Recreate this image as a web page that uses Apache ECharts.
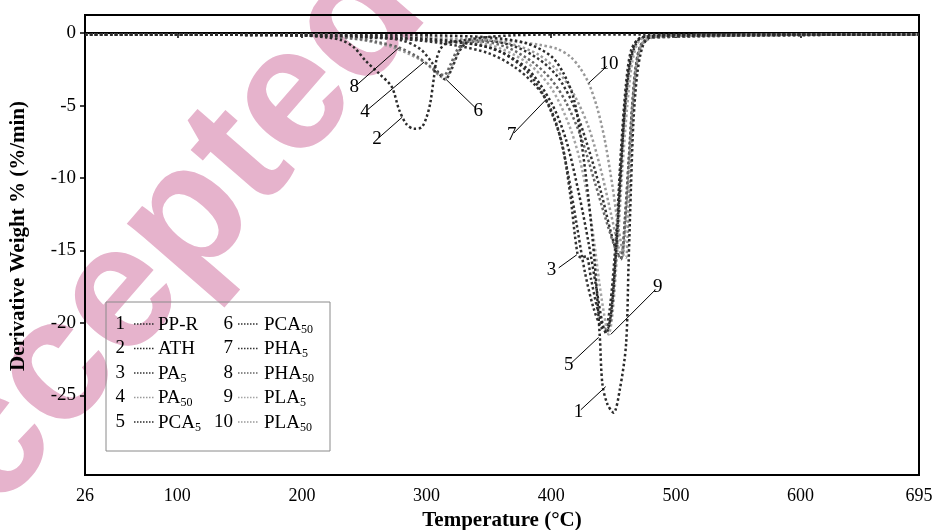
<!DOCTYPE html>
<html>
<head>
<meta charset="utf-8">
<script src="https://cdn.jsdelivr.net/npm/echarts@6/dist/echarts.min.js"></script>
<style>
  html, body { margin: 0; padding: 0; background: #fff; }
  #main { width: 933px; height: 530px; }
</style>
</head>
<body>
<div id="main"></div>
<script>
// tick labels
var xTicks = [26, 100, 200, 300, 400, 500, 600, 695];
var xTickMarks = [100, 200, 300, 400, 500, 600];
var yTicks = [0, -5, -10, -15, -20, -25];

// [temperature, derivative weight]
var ppr = [[26,-0.1],[200,-0.1],[300,-0.15],[350,-0.3],[380,-0.7],[400,-1.6],[410,-2.8],[418,-4.5],[424,-7.4],[430,-11.5],[435,-16],[439,-21],[441,-24.2],[445,-25.6],[450,-26.2],[455,-24.6],[460,-21.5],[462,-16],[464,-10.5],[466,-6],[469,-2.8],[473,-1],[478,-0.35],[490,-0.15],[600,-0.1],[695,-0.1]];
var ath = [[26,-0.1],[150,-0.1],[200,-0.15],[220,-0.3],[232,-0.5],[242,-1.0],[251,-1.9],[262,-2.8],[272,-3.7],[278,-5.3],[284,-6.3],[290,-6.6],[296,-6.5],[300,-5.8],[303,-4.8],[306,-3.0],[308,-1.8],[311,-1.1],[316,-0.7],[330,-0.5],[345,-0.3],[370,-0.15],[400,-0.1],[474,-0.1],[695,-0.1]];
var pa5 = [[26,-0.1],[200,-0.15],[250,-0.3],[300,-0.5],[340,-0.8],[360,-1.3],[380,-2.6],[395,-4.5],[408,-7.4],[415,-11],[421,-15.2],[424,-15.5],[428,-15.4],[432,-17],[437,-19],[443,-20.5],[447,-19],[452,-14],[456,-8],[460,-3.5],[464,-1.2],[470,-0.4],[480,-0.2],[695,-0.1]];
var pa50 = [[26,-0.1],[200,-0.15],[230,-0.3],[250,-0.5],[270,-0.9],[285,-1.4],[298,-2.0],[306,-2.6],[311,-3.0],[315,-3.1],[320,-2.3],[326,-1.2],[333,-0.6],[345,-0.5],[370,-0.8],[390,-1.5],[405,-2.6],[418,-4.2],[430,-6.5],[440,-9.5],[448,-12.5],[454,-14.8],[457,-15.4],[459,-14],[462,-10],[465,-5.5],[468,-2.5],[472,-0.9],[480,-0.35],[500,-0.15],[695,-0.1]];
var pca5 = [[26,-0.1],[200,-0.15],[300,-0.4],[350,-1.0],[380,-2.4],[400,-4.8],[412,-7.4],[422,-11],[430,-14.5],[436,-17.5],[441,-20],[444,-20.7],[448,-19.5],[452,-15],[456,-9.5],[459,-5],[463,-2],[468,-0.6],[475,-0.25],[695,-0.1]];
var pca50 = [[26,-0.1],[200,-0.1],[250,-0.2],[280,-0.5],[295,-1.1],[304,-2.0],[310,-2.8],[315,-3.2],[320,-2.5],[326,-1.3],[333,-0.6],[345,-0.5],[370,-0.9],[390,-1.8],[405,-3.0],[418,-5],[430,-8],[440,-11],[448,-13.8],[453,-15.2],[456,-15.5],[459,-13],[462,-9],[465,-5],[468,-2.2],[472,-0.8],[480,-0.3],[695,-0.1]];
var pha5 = [[26,-0.1],[200,-0.15],[280,-0.4],[320,-0.8],[350,-1.4],[370,-2.3],[385,-3.4],[396,-4.6],[405,-6.5],[413,-9.5],[420,-13],[427,-16.5],[434,-19],[440,-20.3],[444,-20.6],[448,-19.3],[452,-15],[456,-9],[460,-4.5],[464,-1.8],[470,-0.5],[480,-0.2],[695,-0.1]];
var pha50 = [[26,-0.1],[200,-0.15],[240,-0.35],[260,-0.6],[278,-1.0],[292,-1.6],[303,-2.3],[310,-2.8],[314,-2.9],[319,-2.2],[325,-1.1],[332,-0.6],[345,-0.6],[365,-1.0],[385,-2.0],[400,-3.2],[412,-4.8],[424,-7.2],[435,-10.3],[445,-13.2],[452,-15],[456,-15.6],[459,-13],[462,-9],[465,-5],[468,-2.3],[472,-0.8],[480,-0.3],[695,-0.1]];
var pla5 = [[26,-0.1],[200,-0.1],[300,-0.3],[350,-0.8],[380,-2.0],[400,-3.8],[415,-6.5],[425,-9.5],[433,-13.5],[439,-17.5],[444,-20.2],[446,-20.8],[449,-19.5],[453,-15],[457,-9.5],[461,-5],[465,-2],[470,-0.6],[478,-0.2],[695,-0.1]];
var pla50 = [[26,-0.1],[200,-0.1],[250,-0.15],[300,-0.3],[330,-0.4],[360,-0.5],[390,-0.8],[405,-1.1],[415,-1.6],[423,-2.4],[430,-3.45],[437,-5.2],[443,-7.4],[449,-10.5],[454,-13.5],[458,-15.3],[460,-15.5],[462,-12],[464,-8],[466,-4.5],[469,-2],[473,-0.7],[480,-0.3],[500,-0.15],[695,-0.1]];

var seriesNames = ['PP-R', 'ATH', 'PA5', 'PA50', 'PCA5', 'PCA50', 'PHA5', 'PHA50', 'PLA5', 'PLA50'];
var seriesData = [ppr, ath, pa5, pa50, pca5, pca50, pha5, pha50, pla5, pla50];
var seriesColors = ['#2a2a2a', '#2a2a2a', '#333', '#9a9a9a', '#2a2a2a', '#333', '#333', '#666', '#a5a5a5', '#999'];

// callout number, from point, to point (data coords)
var callouts = [
  ['1', [423.7, -26.0], [443.7, -24.4]],
  ['2', [262, -7.2], [280.5, -5.8]],
  ['3', [406, -16.2], [420.5, -15.3]],
  ['4', [252.5, -5.3], [298, -2.0]],
  ['5', [415.7, -22.8], [438, -21.0]],
  ['6', [339.7, -5.2], [315.7, -3.2]],
  ['7', [370, -6.9], [395.7, -4.6]],
  ['8', [243.7, -3.6], [278, -1.0]],
  ['9', [483.7, -17.7], [447.7, -20.8]],
  ['10', [444.5, -2.3], [430, -3.45]]
];

var serif = '"Liberation Serif", "Times New Roman", serif';

var series = seriesData.map(function (d, i) {
  var c = callouts[i];
  return {
    name: seriesNames[i],
    type: 'line',
    data: d,
    showSymbol: false,
    smooth: 0.3,
    z: 3 + (seriesColors[i] === '#2a2a2a' ? 1 : 0),
    lineStyle: { color: seriesColors[i], width: 2.5, type: 'dotted' },
    markLine: {
      silent: true,
      symbol: ['none', 'none'],
      animation: false,
      lineStyle: { color: '#000', width: 1, type: 'solid' },
      label: {
        show: true,
        position: 'start',
        distance: 3,
        formatter: c[0],
        color: '#000',
        fontSize: 19,
        fontFamily: serif
      },
      data: [[{ coord: c[1] }, { coord: c[2] }]]
    }
  };
});

// legend drawn as text rows: [number, name, sub]
var legendRows = [
  ['1', 'PP-R', ''], ['2', 'ATH', ''], ['3', 'PA', '5'], ['4', 'PA', '50'], ['5', 'PCA', '5'],
  ['6', 'PCA', '50'], ['7', 'PHA', '5'], ['8', 'PHA', '50'], ['9', 'PLA', '5'], ['10', 'PLA', '50']
];
var legendEls = [{
  type: 'rect',
  shape: { x: 106, y: 302, width: 224, height: 149 },
  style: { fill: null, stroke: '#8a8a8a', lineWidth: 1 }
}];
legendRows.forEach(function (r, i) {
  var col = i < 5 ? 0 : 1;
  var row = i % 5;
  var y = 324 + row * 24.5;
  var numX = col ? 233 : 125;
  var lx = col ? 238 : 134;
  var tx = col ? 264 : 158;
  legendEls.push({
    type: 'text', x: numX, y: y,
    style: { text: r[0], fill: '#000', font: '19px ' + serif, align: 'right', verticalAlign: 'middle' }
  });
  legendEls.push({
    type: 'line', shape: { x1: lx, y1: y, x2: lx + 21, y2: y },
    style: { stroke: seriesColors[i], lineWidth: 1.5, lineDash: [1.5, 1.5] }
  });
  legendEls.push({
    type: 'text', x: tx, y: y + 1,
    style: {
      text: '{m|' + r[1] + '}' + (r[2] ? '{s|' + r[2] + '}' : ''),
      fill: '#000', align: 'left', verticalAlign: 'middle',
      rich: {
        m: { fontSize: 19, fontFamily: serif, color: '#000' },
        s: { fontSize: 12, fontFamily: serif, color: '#000', padding: [9, 0, 0, 0] }
      }
    }
  });
});

var wmAngle = 49 * Math.PI / 180;

var chart = echarts.init(document.getElementById('main'));
chart.setOption({
  backgroundColor: '#fff',
  animation: false,
  grid: {
    left: 85, right: 14, top: 15, bottom: 55,
    show: true, borderColor: '#000', borderWidth: 2,
    containLabel: false, outerBoundsMode: 'none'
  },
  xAxis: {
    type: 'value', min: 26, max: 695,
    name: 'Temperature (°C)', nameLocation: 'middle', nameGap: 33,
    nameTextStyle: { fontFamily: serif, fontWeight: 'bold', fontSize: 21, color: '#000' },
    axisLine: { lineStyle: { color: '#000', width: 2 } },
    axisTick: { length: 5, lineStyle: { color: '#000', width: 1.5 }, customValues: xTickMarks },
    axisLabel: { customValues: xTicks, color: '#000', fontSize: 18, fontFamily: serif, margin: 12 },
    splitLine: { show: false }
  },
  yAxis: {
    type: 'value', min: -30.5, max: 1.25,
    name: 'Derivative Weight % (%/min)', nameLocation: 'middle', nameGap: 56, nameRotate: 90,
    nameTextStyle: { fontFamily: serif, fontWeight: 'bold', fontSize: 21, color: '#000', padding: [0, 0, 0, 18] },
    axisLine: { lineStyle: { color: '#000', width: 2 } },
    axisTick: { length: 5, lineStyle: { color: '#000', width: 1.5 }, customValues: yTicks },
    axisLabel: { customValues: yTicks, color: '#000', fontSize: 19, fontFamily: serif, margin: 9 },
    splitLine: { show: false }
  },
  graphic: [
    {
      type: 'text', x: -122, y: 577, rotation: wmAngle, z: -10,
      style: { text: 'Accepted Manuscript', fill: '#e6b3cc', font: 'bold 175px "Liberation Sans", Arial, sans-serif', align: 'left', verticalAlign: 'middle' }
    },
    { type: 'group', z: 10, children: legendEls }
  ],
  series: series
});
</script>
</body>
</html>
